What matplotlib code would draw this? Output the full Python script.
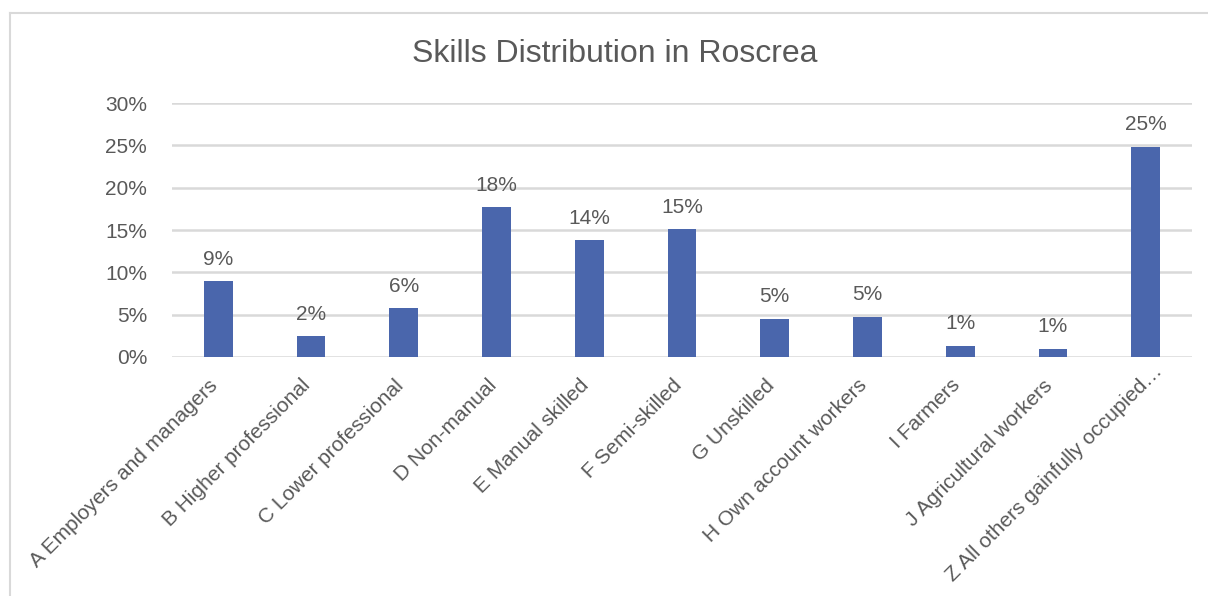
import matplotlib
matplotlib.use("Agg")
import matplotlib.pyplot as plt
from matplotlib.lines import Line2D
import matplotlib.transforms as mtransforms

categories = [
    "A Employers and managers",
    "B Higher professional",
    "C Lower professional",
    "D Non-manual",
    "E Manual skilled",
    "F Semi-skilled",
    "G Unskilled",
    "H Own account workers",
    "I Farmers",
    "J Agricultural workers",
    "Z All others gainfully occupied…",
]
values = [8.97, 2.43, 5.78, 17.66, 13.8, 15.1, 4.52, 4.76, 1.33, 0.98, 24.83]
yticks = [0, 5, 10, 15, 20, 25, 30]
title = "Skills Distribution in Roscrea"

plt.rcParams['font.family'] = ['Liberation Sans', 'DejaVu Sans']
text_color = "#595959"
bar_color = "#4A66AC"
grid_color = "#D9D9D9"

fig = plt.figure(figsize=(12.08, 5.96), dpi=100)
ax = fig.add_axes([172/1208, 1-357/596, (1192-172)/1208, (357-103)/596])

x = list(range(len(categories)))
ax.bar(x, values, width=0.31, color=bar_color, zorder=3)
ax.set_xlim(-0.5, len(categories)-0.5)
ax.set_ylim(0, 30)
ax.set_yticks(yticks)
ax.set_yticklabels([f"{t}%" for t in yticks], color=text_color, fontsize=15)
ax.yaxis.grid(True, color=grid_color, linewidth=1.8, zorder=0)
ax.tick_params(axis='y', length=0, pad=18)
ax.tick_params(axis='x', length=0)
for s in ax.spines.values():
    s.set_visible(False)

ax.set_xticks(x)
ax.set_xticklabels(categories, rotation=45, ha='right', va='top',
                   rotation_mode='anchor', color=text_color, fontsize=15)
labels = ax.get_xticklabels()
for i, lab in enumerate(labels):
    if i == len(labels) - 1:
        dx, dy = 7, 0   # truncated label sits further along its direction
    else:
        dx, dy = -10, -14
    off = mtransforms.ScaledTranslation(dx/100, dy/100, fig.dpi_scale_trans)
    lab.set_transform(lab.get_transform() + off)

for xi, v in zip(x, values):
    ax.annotate(f"{v:.0f}%", (xi, v), xytext=(0, 22), textcoords='offset pixels',
                ha='center', va='center', color=text_color, fontsize=15)

fig.text(615/1208, 1-54/596, title, ha='center', va='center',
         color=text_color, fontsize=23)

# chart border (left and top visible)
fig.add_artist(Line2D([9.5/1208, 9.5/1208], [0, 1-12.5/596], transform=fig.transFigure,
                      color=grid_color, linewidth=1.5))
fig.add_artist(Line2D([9.5/1208, 1], [1-12.5/596, 1-12.5/596], transform=fig.transFigure,
                      color=grid_color, linewidth=1.5))

fig.savefig("out.png", dpi=100, facecolor='white')
